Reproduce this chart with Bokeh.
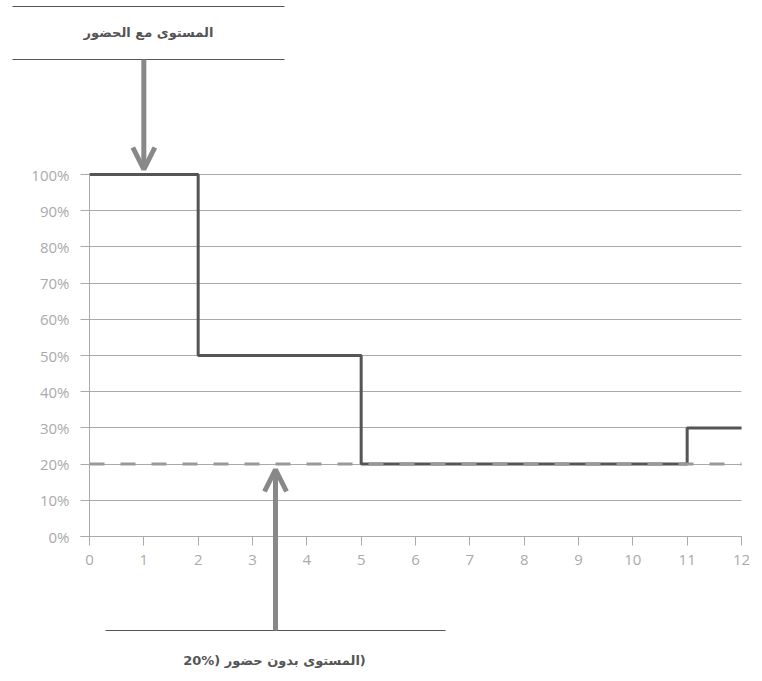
from bokeh.plotting import figure
from bokeh.models import Arrow, OpenHead, Label, FixedTicker, PrintfTickFormatter
from bokeh.embed import file_html
from bokeh.resources import INLINE

# ---- data ----
months = [0, 2, 5, 11, 12]
level = [100, 50, 20, 30, 30]
baseline = 20
x_ticks = list(range(0, 13))
y_ticks = list(range(0, 101, 10))
label_with = "المستوى مع الحضور"
label_without = "(المستوى بدون حضور (20%"

# ---- layout constants (page pixels) ----
W, H = 762, 681
GRID_L = 80                 # left end of grid lines / x axis line
X0_PX, X12_PX = 89, 741     # page px of x = 0 and x = 12
Y0_PX, Y100_PX = 536, 174   # page px of 0 % and 100 %
PX_PER_X = (X12_PX - X0_PX) / 12.0
PX_PER_Y = (Y0_PX - Y100_PX) / 100.0


def dx(px):   # page px -> data x
    return (px - X0_PX) / PX_PER_X


def dy(py):   # page px -> data y
    return (Y0_PX - py) / PX_PER_Y


def rtl(s):   # right-to-left embedding, digits kept left-to-right
    return "\u202B" + s.replace("20%", "\u200E20%") + "\u202C"


GRID = "#aaaaaa"
LINE = "#555555"
DASH = "#999999"
ARROW = "#888888"
TEXT = "#555555"
FONT = "Open Sans"
AFONT = "DejaVu Sans"

p = figure(width=W, height=H, output_backend="svg", toolbar_location=None,
           x_range=(dx(0), dx(W)), y_range=(dy(H), dy(0)), min_border=0)
p.outline_line_color = None
p.background_fill_color = "white"
p.border_fill_color = "white"

# grid
p.xgrid.grid_line_color = None
p.ygrid.ticker = FixedTicker(ticks=y_ticks)
p.ygrid.bounds = (y_ticks[0] - 1, y_ticks[-1] + 1)
p.ygrid.cross_bounds = (dx(GRID_L), x_ticks[-1])
p.ygrid.grid_line_color = GRID
p.ygrid.grid_line_width = 1

# y axis, drawn inside the frame at x = 0
p.yaxis.fixed_location = x_ticks[0]
p.yaxis.bounds = (y_ticks[0], y_ticks[-1])
p.yaxis.ticker = FixedTicker(ticks=y_ticks)
p.yaxis.formatter = PrintfTickFormatter(format="%d%%")
p.yaxis.axis_line_color = GRID
p.yaxis.major_tick_line_color = None
p.yaxis.minor_tick_line_color = None
p.yaxis.major_tick_out = 0
p.yaxis.major_tick_in = 0
p.yaxis.major_label_standoff = 20
p.yaxis.major_label_text_color = GRID
p.yaxis.major_label_text_font = FONT
p.yaxis.major_label_text_font_size = "15px"

# x axis, drawn inside the frame at 0 %
p.xaxis.fixed_location = y_ticks[0]
p.xaxis.bounds = (dx(GRID_L), x_ticks[-1])
p.xaxis.ticker = FixedTicker(ticks=x_ticks)
p.xaxis.axis_line_color = GRID
p.xaxis.major_tick_line_color = GRID
p.xaxis.minor_tick_line_color = None
p.xaxis.major_tick_out = 9
p.xaxis.major_tick_in = 0
p.xaxis.major_label_standoff = 9
p.xaxis.major_label_text_color = GRID
p.xaxis.major_label_text_font = FONT
p.xaxis.major_label_text_font_size = "15px"

# step line
p.step(months, level, mode="after", line_color=LINE, line_width=3)

# dashed baseline
p.line([x_ticks[0], x_ticks[-1]], [baseline, baseline], line_color=DASH,
       line_width=3, line_dash="15 16")

# ---- top annotation ----
for py in (6, 59):
    p.segment(x0=[dx(12)], y0=[dy(py)], x1=[dx(284)], y1=[dy(py)],
              line_color=LINE, line_width=1)
p.add_layout(Label(x=dx(148), y=dy(32), text=label_with, text_align="center",
                   text_baseline="middle", text_font=AFONT,
                   text_font_style="bold", text_font_size="13px", text_color=TEXT))
p.add_layout(Arrow(x_start=1, y_start=dy(59), x_end=1, y_end=dy(169),
                   line_color=ARROW, line_width=5,
                   end=OpenHead(size=22, line_color=ARROW, line_width=5)))

# ---- bottom annotation ----
p.segment(x0=[dx(105)], y0=[dy(630)], x1=[dx(445)], y1=[dy(630)],
          line_color=LINE, line_width=1)
p.add_layout(Label(x=dx(274), y=dy(660), text=rtl(label_without), text_align="center",
                   text_baseline="middle", text_font=AFONT,
                   text_font_style="bold", text_font_size="13px", text_color=TEXT))
p.add_layout(Arrow(x_start=dx(275), y_start=dy(630), x_end=dx(275), y_end=dy(469),
                   line_color=ARROW, line_width=5,
                   end=OpenHead(size=22, line_color=ARROW, line_width=5)))

open("out.html", "w").write(file_html(p, INLINE))
